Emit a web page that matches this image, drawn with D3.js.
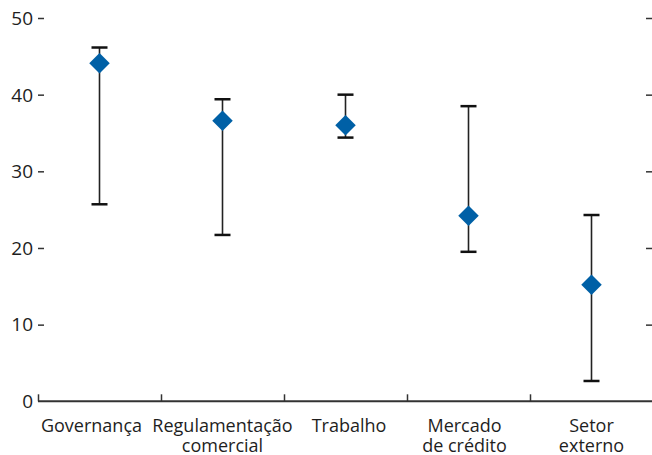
<!DOCTYPE html>
<html>
<head>
<meta charset="utf-8">
<script src="https://cdn.jsdelivr.net/npm/d3@7"></script>
<style>
  body { margin: 0; background: #fff; }
  svg { display: block; }
  text { font-family: "Open Sans", Lato, sans-serif; fill: #1e1e1e; }
</style>
</head>
<body>
<svg id="chart" width="652" height="455"></svg>
<script>
const categories = [["Governança"], ["Regulamentação", "comercial"], ["Trabalho"], ["Mercado", "de crédito"], ["Setor", "externo"]];
const pointValues = [44.1, 36.6, 36.0, 24.2, 15.2];
const upperValues = [46.15, 39.4, 40.0, 38.5, 24.3];
const lowerValues = [25.7, 21.7, 34.4, 19.5, 2.65];
const yTicks = [0, 10, 20, 30, 40, 50];

(function () {
const svg = d3.select("#chart");
const mLeft = 38, mRight = 653, mTop = 18, mBottom = 401.3;
const labelNudge = [-8, 0, 3.5, -4, 0];

const keys = categories.map(c => c.join(" "));
const x = d3.scaleBand().domain(keys).range([mLeft, mRight]).padding(0);
const y = d3.scaleLinear().domain([0, 50]).range([mBottom, mTop]);

// left y axis (ticks pointing inward, no domain line)
const yAxisL = svg.append("g").attr("transform", `translate(${mLeft},0)`)
  .call(d3.axisRight(y).tickValues(yTicks.filter(t => t > 0)).tickSize(6).tickFormat(""));
yAxisL.select(".domain").remove();
yAxisL.selectAll(".tick line").attr("stroke", "#333").attr("stroke-width", 1.5);

// y tick labels
svg.append("g").selectAll("text").data(yTicks).join("text")
  .attr("x", 33).attr("y", d => y(d)).attr("dy", "0.36em")
  .attr("text-anchor", "end").style("font-size", "19px").text(d => d);

// right y axis ticks
const yAxisR = svg.append("g").attr("transform", `translate(652,0)`)
  .call(d3.axisLeft(y).tickValues(yTicks.filter(t => t > 0)).tickSize(6).tickFormat(""));
yAxisR.select(".domain").remove();
yAxisR.selectAll(".tick line").attr("stroke", "#333").attr("stroke-width", 1.5);

// x axis line
svg.append("line").attr("x1", mLeft).attr("x2", 652).attr("y1", mBottom).attr("y2", mBottom)
  .attr("stroke", "#333").attr("stroke-width", 2);
// category boundary ticks
svg.append("g").selectAll("line").data(keys).join("line")
  .attr("x1", d => x(d) + 0.5).attr("x2", d => x(d) + 0.5)
  .attr("y1", mBottom).attr("y2", mBottom - 7)
  .attr("stroke", "#333").attr("stroke-width", 1.5);

// category labels (one text per line)
const lines = [];
categories.forEach((c, i) => c.forEach((t, j) => lines.push({ t, i, j })));
svg.append("g").selectAll("text").data(lines).join("text")
  .attr("text-anchor", "middle").style("font-size", "18px")
  .attr("x", d => x(keys[d.i]) + x.bandwidth() / 2 + labelNudge[d.i])
  .attr("y", d => 431.7 + d.j * 20)
  .text(d => d.t);

// error bars
const g = svg.append("g");
const cx = i => x(keys[i]) + x.bandwidth() / 2;
g.selectAll("line.whisk").data(pointValues).join("line").attr("class", "whisk")
  .attr("x1", (d, i) => cx(i)).attr("x2", (d, i) => cx(i))
  .attr("y1", (d, i) => y(upperValues[i])).attr("y2", (d, i) => y(lowerValues[i]))
  .attr("stroke", "#222").attr("stroke-width", 1.6);
g.selectAll("line.capU").data(upperValues).join("line").attr("class", "capU")
  .attr("x1", (d, i) => cx(i) - 8).attr("x2", (d, i) => cx(i) + 8)
  .attr("y1", d => y(d)).attr("y2", d => y(d))
  .attr("stroke", "#111").attr("stroke-width", 2.5);
g.selectAll("line.capL").data(lowerValues).join("line").attr("class", "capL")
  .attr("x1", (d, i) => cx(i) - 8).attr("x2", (d, i) => cx(i) + 8)
  .attr("y1", d => y(d)).attr("y2", d => y(d))
  .attr("stroke", "#111").attr("stroke-width", 2.5);

// diamonds
const sym = d3.symbol().type(d3.symbolSquare).size(210);
g.selectAll("path.pt").data(pointValues).join("path").attr("class", "pt")
  .attr("d", sym)
  .attr("transform", (d, i) => `translate(${cx(i)},${y(d)}) rotate(45)`)
  .attr("fill", "#0060a6");
})();
</script>
</body>
</html>
